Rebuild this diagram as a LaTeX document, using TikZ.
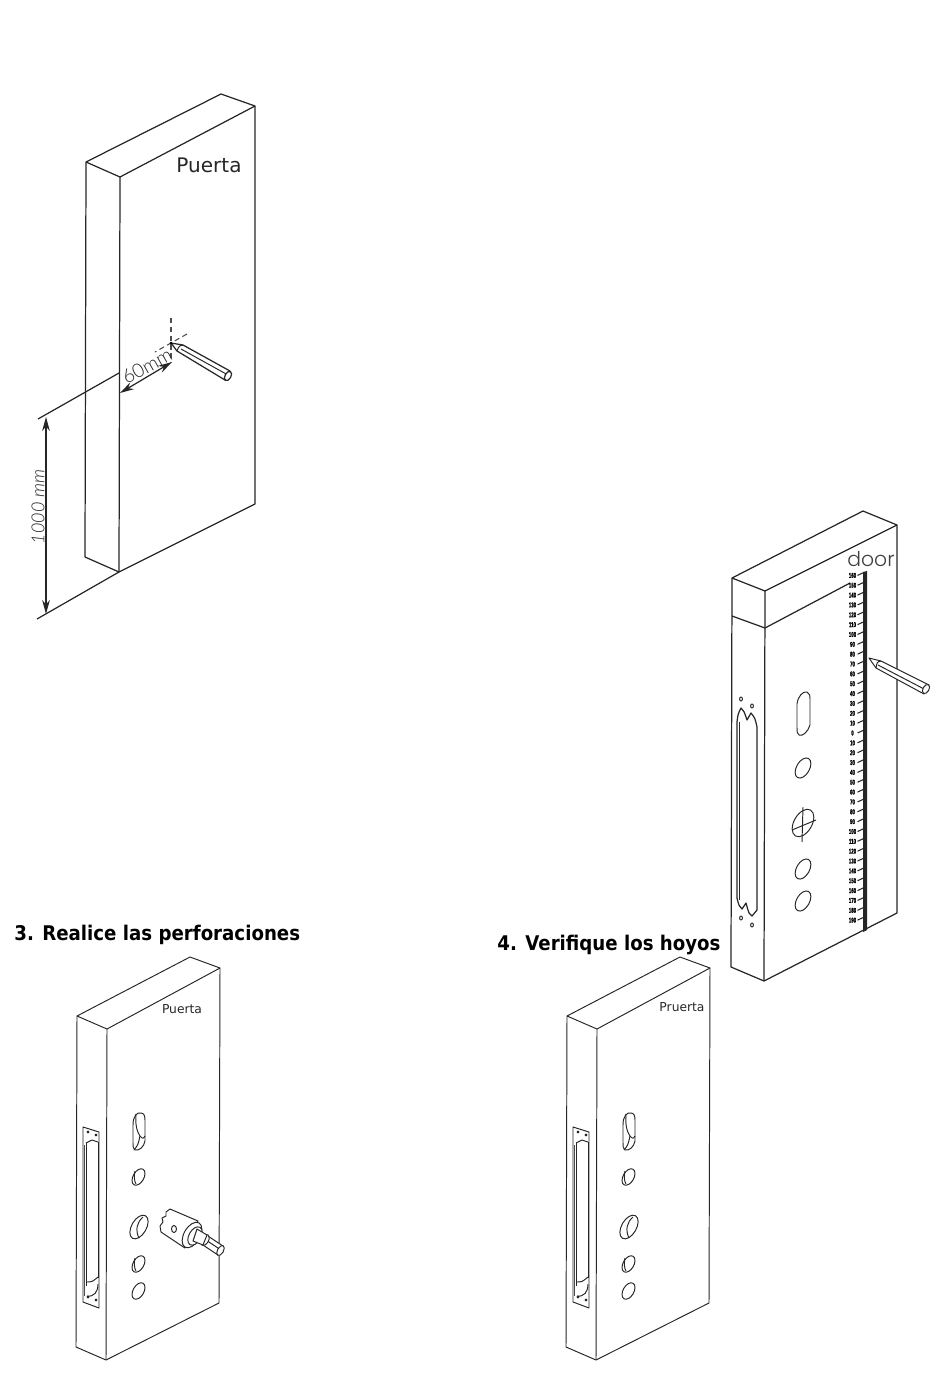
\documentclass[tikz,border=0pt]{standalone}
\usepackage{fontspec}
\setmainfont{DejaVu Sans}
\newfontfamily\dimfont{Lato Light}
\newfontfamily\doorfont{Poppins Light}
\newfontfamily\markfont[FakeStretch=0.62,FakeBold=1.5]{Liberation Sans Bold}
\newfontfamily\stepfont[FakeStretch=0.9]{DejaVu Sans Bold}
\usetikzlibrary{positioning,arrows.meta}

\begin{document}
\begin{tikzpicture}[
  x=0.02cm,y=-0.02cm,
  edge/.style={line width=0.7pt,draw=black!85,line join=round},
  thin edge/.style={line width=0.55pt,draw=black!85,line join=round},
  dim/.style={line width=0.7pt,draw=black!85},
  dimarr/.style={dim,{Stealth[length=8pt,width=4.4pt]}-{Stealth[length=8pt,width=4.4pt]}},
  guide/.style={line width=0.6pt,draw=black!70,dashed,dash pattern=on 3pt off 2pt},
  label/.style={inner sep=0pt,text=black!85},
  scale mark/.style={inner sep=0pt,font=\markfont\fontsize{4}{4}\selectfont}
]
\useasboundingbox (0,0) rectangle (950,1387);

% door with the pencil mark
\draw[edge] (86,162) -- (221,94) -- (255,106) -- (255,504) -- (119,572) -- (85,557) -- cycle;
\draw[edge] (86,162) -- (120,177) -- (255,106);
\draw[edge] (120,177) -- (119,572);
\node[label,font=\fontsize{11.4}{12}\selectfont] (doorA) at (209,165) {Puerta};

\coordinate (edgeTop) at (119,373);
\coordinate (edgeBot) at (119,572);
\coordinate (extTop) at (38,419);
\coordinate (extBot) at (37,619);
\coordinate (arrTop) at (46,417);
\coordinate (arrBot) at (46,614);
\coordinate (arrEdge) at (120,393);
\coordinate (arrMark) at (172,362);
\draw[dim] (edgeTop) -- (extTop);
\draw[dim] (edgeBot) -- (extBot);
\draw[dimarr] (arrTop) -- (arrBot);
\draw[dimarr] (arrEdge) -- (arrMark);
\draw[guide] (171,318) -- (171,362);
\draw[guide] (187,334) -- (155,352);
\node[label,font=\dimfont\itshape\fontsize{10.2}{11}\selectfont,rotate=90] (dimH) at (38,507) {1000 mm};
\node[label,font=\dimfont\fontsize{11}{12}\selectfont,rotate=29] (dimW) at (147,366) {60mm};

% pencil
\draw[edge,fill=white] (171,343) -- (183,345) -- (230,371) -- (225,380) -- (177,351) -- cycle;
\draw[thin edge] (181,349) -- (228,375);
\draw[thin edge] (183,345) .. controls (179,346) .. (177,351);
\draw[edge,fill=white] (228,376) ellipse [x radius=5,y radius=3,rotate=60];
\fill[black] (171,343) circle [radius=1.4];

% door with the scale
\draw[edge] (732,578) -- (863,511) -- (897,525) -- (897,913) -- (764,981) -- (731,967) -- cycle;
\draw[edge] (732,578) -- (765,591) -- (897,525);
\draw[edge] (765,591) -- (764,981);
\draw[edge] (732,616) -- (765,628) -- (850,583);
\node[label,font=\doorfont\fontsize{11.6}{13}\selectfont,text=black!75] (doorB) at (871,559) {door};

\fill[black!85] (863,572) -- (867,571) -- (867,930) -- (863,932) -- cycle;
\foreach \i in {-16,-15,...,19} {
  \pgfmathtruncatemacro{\lab}{abs(\i)*10}
  \coordinate (tickA\i) at (857.5,733+\i*9.85);
  \coordinate (tickB\i) at (864,733+\i*9.85-3);
  \draw[line width=0.6pt,draw=black!85] (tickA\i) -- (tickB\i);
  \node[scale mark] (mark\i) at (852.5,733+\i*9.85) {\lab};
}

\draw[thin edge,fill=white] (869,658) -- (881,661) -- (929,685) -- (924,694) -- (876,668) -- cycle;
\draw[thin edge] (878,665) -- (926,690);
\draw[thin edge] (881,661) .. controls (877,662) .. (876,668);
\draw[thin edge,fill=white] (926,689) ellipse [x radius=5,y radius=3,rotate=60];

\draw[thin edge] (797,704) .. controls (798,696) and (803,691) .. (807,692)
  .. controls (810,693) and (810,696) .. (810,700) -- (810,725)
  .. controls (808,732) and (802,737) .. (799,735)
  .. controls (797,734) and (797,731) .. (797,728) -- cycle;
\foreach \y in {768,869,901}
  \draw[thin edge] (803,\y) ellipse [x radius=11,y radius=6.5,rotate=60];
\draw[thin edge] (803,823) ellipse [x radius=15,y radius=9,rotate=60];
\draw[thin edge] (803,807) -- (802,842);
\draw[thin edge] (792,830) -- (816,820);

\draw[edge] (737,898) -- (737,722) .. controls (738,714) .. (741,708)
  .. controls (744,711) .. (747,720) -- (751,713) .. controls (755,718) .. (757,727)
  -- (757,910) -- (752,916) .. controls (749,914) .. (746,903)
  .. controls (744,906) .. (742,909) .. controls (739,906) .. cycle;
\draw[thin edge] (739,722) -- (739,900);
\foreach \x/\y in {741/699,752/706,741/918,752/925}
  \draw[thin edge] (\x,\y) ellipse [x radius=1.4,y radius=2];

% the two drilled doors
\foreach \dx in {0,490} {
  \begin{scope}[xshift=\dx*0.02cm]
    \draw[thin edge] (77,1016) -- (190,957) -- (220,968) -- (219,1303) -- (106,1360) -- (76,1347) -- cycle;
    \draw[thin edge] (77,1016) -- (107,1029) -- (220,968);
    \draw[thin edge] (107,1029) -- (106,1360);
    % strike plate
    \draw[thin edge] (83,1127) -- (99,1132) -- (99,1308) -- (83,1302) -- cycle;
    \draw[thin edge] (86,1143) -- (86,1286);
    \draw[line width=0.9pt,draw=black!70] (84.5,1145) -- (84.5,1296);
    \draw[thin edge] (86,1143) .. controls (89,1141) .. (92,1140) -- (98,1142);
    \draw[thin edge] (98,1142) -- (98,1278);
    \draw[thin edge] (86,1282) .. controls (92,1282) .. (98,1277);
    \draw[thin edge] (87,1296) .. controls (94,1297) and (98,1292) .. (98,1284);
    \foreach \x/\y in {88/1132,96/1135,88/1297,96/1300}
      \draw[thin edge] (\x,\y) circle [radius=1];
    % bolt slot
    \draw[thin edge] (133,1125) .. controls (133,1116) and (137,1112) .. (141,1113)
      .. controls (144,1113) and (145,1116) .. (145,1120) -- (145,1141)
      .. controls (144,1147) and (139,1151) .. (135,1150)
      .. controls (133,1149) and (133,1146) .. (133,1143) -- cycle;
    \draw[thin edge] (136,1114) .. controls (135,1124) and (137,1132) .. (140,1136) .. controls (143,1139) .. (145,1136);
    \draw[thin edge] (134,1150) .. controls (138,1145) .. (140,1136);
    % holes
    \foreach \y in {1177,1264,1291}
      \draw[thin edge] (138.5,\y) ellipse [x radius=9,y radius=5.4,rotate=60];
    \draw[thin edge] (139,1227) ellipse [x radius=13,y radius=7.4,rotate=60];
    \draw[thin edge] (143,1217) .. controls (137,1222) and (135,1230) .. (139,1238);
    \draw[thin edge] (135,1258) .. controls (134,1262) and (134,1268) .. (136,1271);
    \draw[thin edge] (135,1171) .. controls (134,1175) and (134,1181) .. (136,1184);
  \end{scope}
}
\node[label,font=\fontsize{7}{8}\selectfont] (doorC) at (182,1009) {Puerta};
\node[label,font=\fontsize{7}{8}\selectfont] (doorD) at (682,1007) {Pruerta};
\node[label,anchor=west,font=\stepfont\fontsize{11.5}{12}\selectfont,text=black] (stepC) at (14,935) {3. Realice las perforaciones};
\node[label,anchor=west,font=\stepfont\fontsize{11.5}{12}\selectfont,text=black] (stepD) at (497,945) {4. Verifique los hoyos};

% hole saw
\draw[thin edge,fill=white] (208,1236) -- (223,1246) -- (218,1255) -- (203,1245) -- cycle;
\draw[thin edge] (206,1240) -- (221,1250);
\draw[thin edge,fill=white] (220.5,1250.5) ellipse [x radius=5.5,y radius=3,rotate=60];
\draw[thin edge,fill=white] (205,1240) ellipse [x radius=6,y radius=3.5,rotate=60];
\draw[thin edge,fill=white] (170,1209) -- (198,1221) -- (185,1248) -- (161,1232)
  -- (160,1226) -- (163,1222) -- (162,1218) -- (166,1216) -- (166,1212) -- cycle;
\draw[thin edge,fill=white] (192,1235) ellipse [x radius=14,y radius=8,rotate=60];
\draw[thin edge,fill=white] (195,1236) ellipse [x radius=10,y radius=6,rotate=60];
\draw[thin edge,fill=white] (197,1229) -- (207,1235) -- (203,1245) -- (193,1241) -- cycle;
\draw[thin edge] (174,1229) ellipse [x radius=2.5,y radius=3.5];
\end{tikzpicture}
\end{document}
